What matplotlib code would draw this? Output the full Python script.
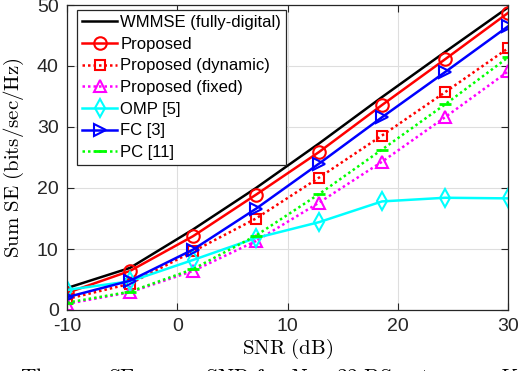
import numpy as np
import matplotlib
matplotlib.use("Agg")
import matplotlib.pyplot as plt

plt.rcParams['font.family'] = ['Liberation Sans', 'DejaVu Sans']
plt.rcParams['mathtext.fontset'] = 'cm'

# SNR points (dB)
snr = [-10, -4.29, 1.43, 7.14, 12.86, 18.57, 24.29, 30]

# sum SE values (bits/sec/Hz)
wmmse = [3.6, 6.9, 13.2, 20.0, 27.3, 34.9, 42.3, 49.6]
proposed = [2.8, 6.4, 12.1, 18.9, 25.9, 33.6, 41.1, 48.7]
dynamic = [1.8, 4.3, 9.6, 15.0, 21.7, 28.6, 35.7, 42.9]
fixed = [1.0, 2.9, 6.4, 11.3, 17.6, 24.3, 31.6, 39.1]
omp = [3.3, 4.7, 8.2, 11.8, 14.4, 17.8, 18.4, 18.3]
fc = [2.1, 4.8, 9.9, 16.6, 24.0, 31.6, 39.0, 46.5]
pc = [1.2, 3.0, 6.7, 12.2, 19.0, 26.3, 33.7, 41.4]

labels = ["WMMSE (fully-digital)", "Proposed", "Proposed (dynamic)",
          "Proposed (fixed)", "OMP [5]", "FC [3]", "PC [11]"]

xticks = [-10, 0, 10, 20, 30]
yticks = [0, 10, 20, 30, 40, 50]

fig = plt.figure(figsize=(5.26, 3.71), dpi=100)
ax = fig.add_axes([67 / 526, 1 - 310 / 371, 441 / 526, 305 / 371])

dotted = (0, (1, 1.2))
lw = 1.8
ms = 9
mew = 1.5
red = (1, 0, 0)
magenta = (1, 0, 1)
cyan = (0, 1, 1)
blue = (0, 0, 1)
green = (0, 1, 0)

ax.plot(snr, wmmse, color='k', lw=lw, label=labels[0])
ax.plot(snr, proposed, color=red, lw=lw, marker='o', ms=ms, mew=mew,
        mfc='none', label=labels[1])
ax.plot(snr, dynamic, color=red, lw=lw, ls=dotted, marker='s', ms=7, mew=mew,
        mfc='none', label=labels[2])
ax.plot(snr, fixed, color=magenta, lw=lw, ls=dotted, marker='^', ms=ms, mew=mew,
        mfc='none', label=labels[3])
ax.plot(snr, omp, color=cyan, lw=lw, marker='d', ms=ms, mew=mew,
        mfc='none', label=labels[4])
ax.plot(snr, fc, color=blue, lw=lw, marker='>', ms=ms, mew=mew,
        mfc='none', label=labels[5])
ax.plot(snr, pc, color=green, lw=lw, ls=dotted, marker='_', ms=ms, mew=2,
        label=labels[6])

ax.set_xlim(-10, 30)
ax.set_ylim(0, 50)
ax.set_xticks(xticks)
ax.set_yticks(yticks)
ax.set_xticklabels(['-10', '0', '10', '20', '30'])
ax.grid(True, color='0.87', lw=0.8)
ax.set_axisbelow(True)
ax.tick_params(direction='in', length=5, width=0.8, labelsize=14,
               top=True, right=True, colors='0.15', pad=6)
for s in ax.spines.values():
    s.set_color('0.15')
    s.set_linewidth(0.9)

ax.set_xlabel(r'$\mathrm{SNR\ (dB)}$', fontsize=15, labelpad=1)
ax.set_ylabel(r'$\mathrm{Sum\ SE\ (bits/sec/Hz)}$', fontsize=15, labelpad=8)

leg = ax.legend(loc='upper left', fontsize=12, handlelength=2.1,
                handletextpad=0.2, labelspacing=0.4, borderpad=0.3,
                borderaxespad=0.0, fancybox=False, framealpha=1,
                bbox_to_anchor=((77 - 67) / 441, (310 - 10) / 305))
leg.get_frame().set_edgecolor('0.15')
leg.get_frame().set_linewidth(0.9)

fig.text(20 / 526, 1 - 366 / 371,
         r'$\mathrm{The\ sum\ SE\ versus\ SNR\ for\ }N_t=32\mathrm{\ BS\ antennas,\ }K$',
         fontsize=15.5, va='top', ha='left')

fig.savefig("out.png", dpi=100)
